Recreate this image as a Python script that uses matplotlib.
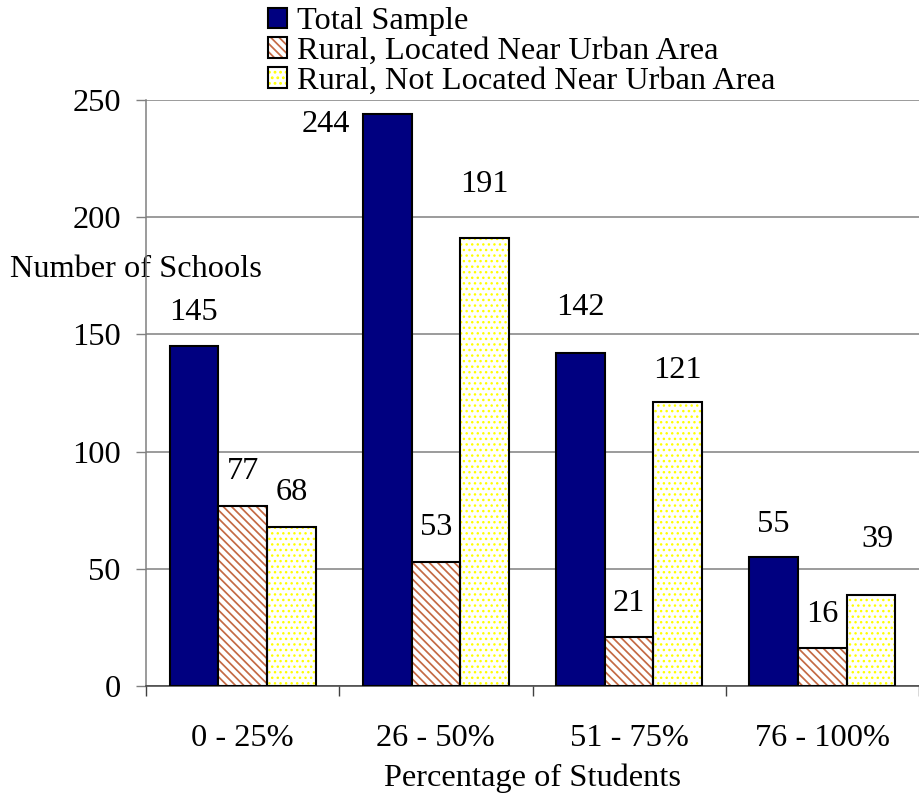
import numpy as np
import matplotlib
matplotlib.use("Agg")
import matplotlib.pyplot as plt
from matplotlib.patches import Patch
from matplotlib.legend_handler import HandlerTuple

plt.rcParams['font.family'] = ['Liberation Serif', 'DejaVu Serif']
plt.rcParams['hatch.linewidth'] = 1.25

categories = ['0 - 25%', '26 - 50%', '51 - 75%', '76 - 100%']
series_names = ['Total Sample', 'Rural, Located Near Urban Area',
                'Rural, Not Located Near Urban Area']
total_sample = [145, 244, 142, 55]
rural_near = [77, 53, 21, 16]
rural_not_near = [68, 191, 121, 39]

# label offsets from bar top (pixels: dx, dy up), Excel-style placement
label_offsets = [
    [(0, 34), (-61, -10), (0, 46), (0, 33)],   # total (244 doesn't fit above)
    [(0, 34), (0, 34), (0, 33), (0, 34)],      # near
    [(0, 34), (0, 54), (0, 32), (6, 55)],      # not near
]

FS = 23.3
navy = '#000080'
brown = '#c46a44'
yellow = '#ffff00'
stripes = '\\\\\\\\'   # 4 backslashes
dots = '...'


def thin_hatch(patches, lw):
    # per-artist hatch width if this matplotlib has it
    for p in patches:
        if hasattr(p, 'set_hatch_linewidth'):
            p.set_hatch_linewidth(lw)


fig = plt.figure(figsize=(9.19, 7.97), dpi=100)
ax = fig.add_axes([146 / 919, 111 / 797, 773 / 919, 586 / 797])

x = np.arange(len(categories))
w = 0.252
data = [total_sample, rural_near, rural_not_near]
offs = [-w, 0, w]

# grid
ax.set_axisbelow(True)
ax.yaxis.grid(True, color='#808080', linewidth=1.1)

ax.bar(x + offs[0], total_sample, w, color=navy, edgecolor='black', linewidth=1.5, zorder=3)
ax.bar(x + offs[1], rural_near, w, color='white', edgecolor=brown, hatch=stripes,
       linewidth=0, zorder=3)
ax.bar(x + offs[1], rural_near, w, fill=False, edgecolor='black', linewidth=1.5, zorder=4)
yb = ax.bar(x + offs[2], rural_not_near, w, color='white', edgecolor=yellow, hatch=dots,
            linewidth=0, zorder=3)
thin_hatch(yb, 1.0)
ax.bar(x + offs[2], rural_not_near, w, fill=False, edgecolor='black', linewidth=1.5, zorder=4)

# value labels
for s, vals in enumerate(data):
    for i, v in enumerate(vals):
        dx, dy = label_offsets[s][i]
        ax.annotate(str(v), (x[i] + offs[s], v), xytext=(dx * 0.72, dy * 0.72),
                    textcoords='offset points', ha='center', va='center',
                    fontsize=FS, zorder=5, annotation_clip=False)

ax.set_ylim(0, 250)
ax.set_xlim(-0.5, (919 - 146) / 195.5 - 0.5)
ax.set_yticks([0, 50, 100, 150, 200, 250])
ax.tick_params(axis='y', direction='out', length=7, width=1, color='#808080',
               labelsize=FS, pad=11)

ax.set_xticks(np.arange(len(categories) + 1) - 0.5)
ax.set_xticklabels([])
ax.tick_params(axis='x', which='major', direction='out', length=7, width=1, color='#404040')
ax.set_xticks(x, minor=True)
ax.set_xticklabels(categories, minor=True)
ax.tick_params(axis='x', which='minor', length=0, labelsize=FS, pad=27)

for side in ['top', 'right']:
    ax.spines[side].set_visible(False)
ax.spines['left'].set_color('#808080')
ax.spines['left'].set_linewidth(1.1)
ax.spines['bottom'].set_color('#404040')
ax.spines['bottom'].set_linewidth(1.1)

ax.set_xlabel('Percentage of Students', fontsize=FS, labelpad=8)
ax.set_ylabel('Number of Schools', fontsize=FS, rotation=0, ha='center', va='center')
ax.yaxis.set_label_coords((136 - 146) / 773, (686 - 270) / 586)

# legend
h_total = Patch(facecolor=navy, edgecolor='black', linewidth=1.5)
h_near = (Patch(facecolor='white', edgecolor=brown, hatch=stripes, linewidth=0),
          Patch(fill=False, edgecolor='black', linewidth=1.5))
h_not_fill = Patch(facecolor='white', edgecolor=yellow, hatch=dots, linewidth=0)
thin_hatch([h_not_fill], 1.0)
h_not = (h_not_fill, Patch(fill=False, edgecolor='black', linewidth=1.5))
fig.legend([h_total, h_near, h_not], series_names,
           handler_map={tuple: HandlerTuple(ndivide=1)},
           loc='upper left', bbox_to_anchor=(266 / 919, 0.993), frameon=False,
           fontsize=FS, handlelength=0.6, handleheight=0.6, handletextpad=0.32,
           labelspacing=0.03, borderpad=0.05, borderaxespad=0)

fig.savefig('out.png', dpi=100)
